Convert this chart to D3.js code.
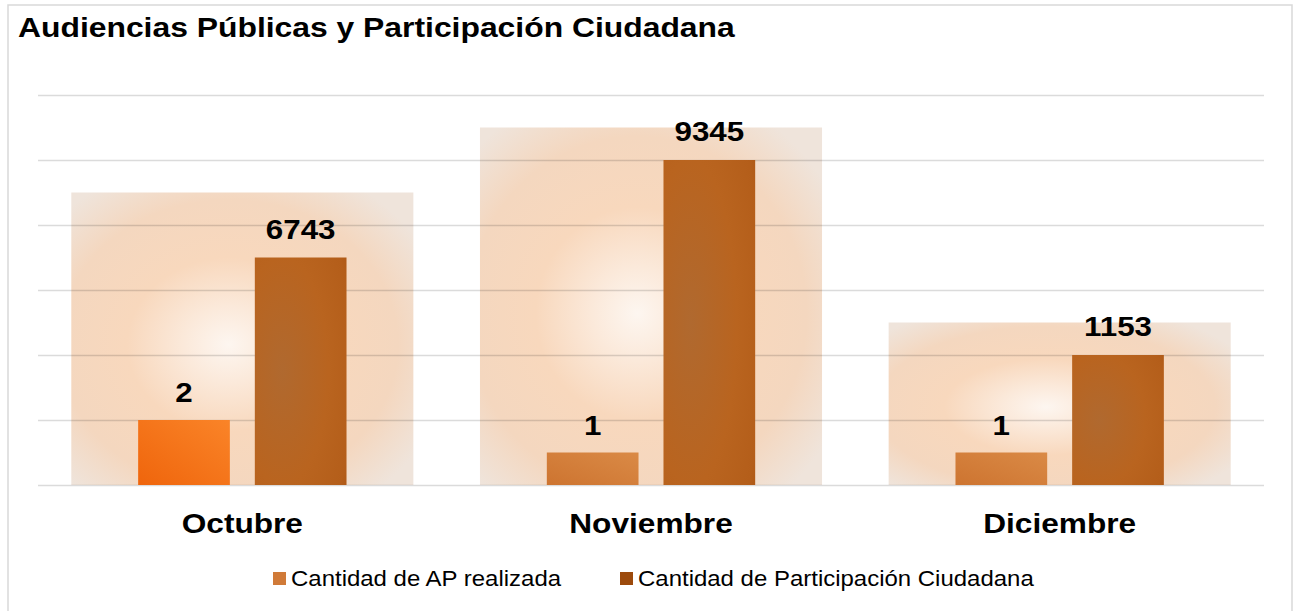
<!DOCTYPE html>
<html>
<head>
<meta charset="utf-8">
<script src="https://cdn.jsdelivr.net/npm/d3@7"></script>
<style>
  html, body { margin: 0; padding: 0; background: #fff; }
  svg { display: block; }
  text { font-family: "Liberation Sans", Arial, sans-serif; }
</style>
</head>
<body>
<svg id="chart" width="1297" height="611"></svg>
<script>
// ---------- data ----------
const title = "Audiencias Públicas y Participación Ciudadana";
const categories = ["Octubre", "Noviembre", "Diciembre"];
const seriesNames = ["Cantidad de AP realizada", "Cantidad de Participación Ciudadana"];
// Cantidad de AP realizada (plotted and labelled on the value axis)
const apValues = [2, 1, 1];
// Cantidad de Participación Ciudadana: labels as shown
const partLabels = [6743, 9345, 1153];
// bar heights of that series as read on the chart's value axis (not proportional to the labels)
const partLevels = [7, 10, 4];
// background decorative panel series, read on the same axis
const panelLevels = [9, 11, 5];
// value axis gridlines
const yTicks = [0, 2, 4, 6, 8, 10, 12];

// ---------- styles ----------
const apColors = ["url(#gApHi)", "url(#gAp)", "url(#gAp)"];
const legendColors = ["#d07a38", "#9c4a0c"];

const svg = d3.select("#chart");
const W = 1297, H = 611;
const plot = { left: 38, right: 1264, top: 95, bottom: 485 };

svg.append("rect").attr("width", W).attr("height", H).attr("fill", "#fff");

const defs = svg.append("defs");
// panel radial gradient
const gp = defs.append("radialGradient").attr("id", "gPanel")
  .attr("cx", 0.46).attr("cy", 0.52).attr("r", 0.66);
[[0, "#fdf6f0"], [0.2, "#fbe9da"], [0.45, "#f8d8bd"], [0.75, "#f4d7bf"], [1, "#efe4db"]]
  .forEach(([o, c]) => gp.append("stop").attr("offset", o).attr("stop-color", c));
// participation bars
const gpart = defs.append("radialGradient").attr("id", "gPart")
  .attr("cx", 0.3).attr("cy", 0.5).attr("r", 1.0);
[[0, "#b0692f"], [0.5, "#b9641f"], [0.8, "#b45e1a"], [1, "#a5500f"]]
  .forEach(([o, c]) => gpart.append("stop").attr("offset", o).attr("stop-color", c));
// AP bars
const gap = defs.append("linearGradient").attr("id", "gAp")
  .attr("x1", 0).attr("y1", 1).attr("x2", 1).attr("y2", 0);
[[0, "#cd7430"], [1, "#da8a46"]]
  .forEach(([o, c]) => gap.append("stop").attr("offset", o).attr("stop-color", c));
const gaph = defs.append("linearGradient").attr("id", "gApHi")
  .attr("x1", 0).attr("y1", 1).attr("x2", 1).attr("y2", 0);
[[0, "#ef650c"], [1, "#fa8428"]]
  .forEach(([o, c]) => gaph.append("stop").attr("offset", o).attr("stop-color", c));

// border
svg.append("rect").attr("x", 8).attr("y", 5).attr("width", 1284).attr("height", 620)
  .attr("fill", "none").attr("stroke", "#d9d9d9").attr("stroke-width", 1.5);

// helper: text stretched horizontally like the reference rendering
function stretched(sel, sx) {
  sel.attr("transform", function () {
    const t = d3.select(this);
    const x0 = +t.attr("x") || 0, y0 = +t.attr("y") || 0;
    t.attr("x", 0).attr("y", 0);
    return `translate(${x0},${y0}) scale(${sx},1)`;
  });
}

// title
svg.append("text").attr("x", 18).attr("y", 37)
  .attr("font-size", 27).attr("font-weight", "bold").attr("fill", "#000")
  .text(title).call(stretched, 1.18);

// scales
const y = d3.scaleLinear().domain([0, 12]).range([plot.bottom, plot.top]);
const x = d3.scaleBand().domain(categories).range([plot.left, plot.right])
  .paddingInner(0.163).paddingOuter(0.0815);
const xs = d3.scaleBand().domain(["ap", "part"]).range([0, x.bandwidth()])
  .paddingInner(0.214).paddingOuter(0.573);

// panels
svg.append("g").selectAll("rect").data(categories).join("rect")
  .attr("x", d => x(d))
  .attr("y", (d, i) => y(panelLevels[i]))
  .attr("width", x.bandwidth())
  .attr("height", (d, i) => y(0) - y(panelLevels[i]))
  .attr("fill", "url(#gPanel)");

// gridlines
const yAxis = d3.axisLeft(y).tickValues(yTicks).tickSize(-(plot.right - plot.left)).tickFormat("");
const ga = svg.append("g").attr("transform", `translate(${plot.left},0)`).call(yAxis);
ga.select(".domain").remove();
ga.selectAll(".tick line").attr("stroke", "#000").attr("stroke-opacity", 0.14).attr("stroke-width", 1.5);

// bars
const groups = svg.append("g").selectAll("g").data(categories).join("g")
  .attr("transform", d => `translate(${x(d)},0)`);

groups.append("rect")
  .attr("x", xs("ap")).attr("width", xs.bandwidth())
  .attr("y", (d, i) => y(apValues[i]))
  .attr("height", (d, i) => y(0) - y(apValues[i]))
  .attr("fill", (d, i) => apColors[i]);

groups.append("rect")
  .attr("x", xs("part")).attr("width", xs.bandwidth())
  .attr("y", (d, i) => y(partLevels[i]))
  .attr("height", (d, i) => y(0) - y(partLevels[i]))
  .attr("fill", "url(#gPart)");

// value labels
groups.append("text")
  .attr("x", xs("ap") + xs.bandwidth() / 2)
  .attr("y", (d, i) => y(apValues[i]) - 18)
  .attr("text-anchor", "middle").attr("font-size", 28).attr("font-weight", "bold")
  .text((d, i) => apValues[i]).call(stretched, 1.12);

groups.append("text")
  .attr("x", xs("part") + xs.bandwidth() / 2)
  .attr("y", (d, i) => y(partLevels[i]) - 19)
  .attr("text-anchor", "middle").attr("font-size", 28).attr("font-weight", "bold")
  .text((d, i) => partLabels[i]).call(stretched, 1.12);

// category axis labels
const xAxis = d3.axisBottom(x).tickSize(0).tickPadding(0);
const gx = svg.append("g").attr("transform", `translate(0,${plot.bottom})`).call(xAxis);
gx.select(".domain").remove();
gx.selectAll(".tick text")
  .attr("x", 0).attr("y", 48).attr("dy", null)
  .attr("font-size", 28).attr("font-weight", "bold").attr("fill", "#000")
  .attr("font-family", "'Liberation Sans', Arial, sans-serif")
  .call(stretched, 1.13);

// legend
const legendX = [273, 620];
const lg = svg.append("g").selectAll("g").data(seriesNames).join("g")
  .attr("transform", (d, i) => `translate(${legendX[i]},572)`);
lg.append("rect").attr("width", 13).attr("height", 13).attr("fill", (d, i) => legendColors[i]);
lg.append("text").attr("x", 18).attr("y", 14)
  .attr("font-size", 22).attr("fill", "#000").text(d => d).call(stretched, 1.09);
</script>
</body>
</html>
